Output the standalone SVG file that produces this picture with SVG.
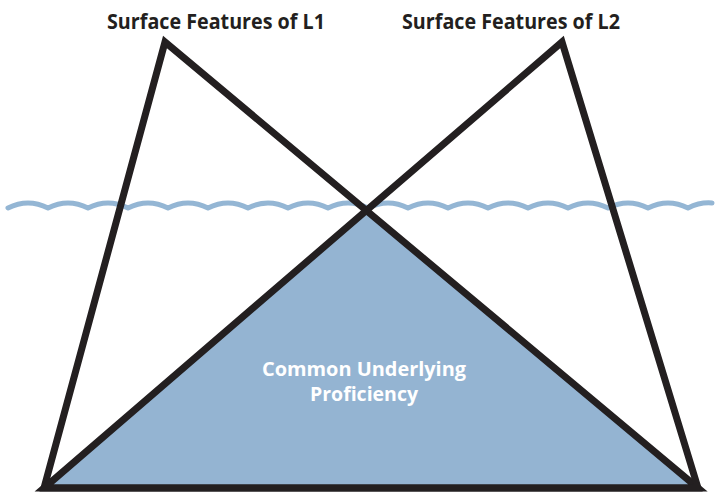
<svg xmlns="http://www.w3.org/2000/svg" width="716" height="493" viewBox="0 0 716 493">
<style>
.edge{fill:none;stroke:#231f20;stroke-width:7;stroke-linejoin:miter;stroke-linecap:butt}
.title{font-family:"Open Sans","Liberation Sans",sans-serif;font-weight:bold;font-size:21px;fill:#231f20;text-anchor:middle}
.inner{font-family:"Open Sans","Liberation Sans",sans-serif;font-weight:bold;font-size:19px;fill:#ffffff;text-anchor:middle}
.wave{fill:none;stroke:#94b6d4;stroke-width:5;stroke-linecap:round;stroke-linejoin:round}
</style>
<g id="cup">
<polygon points="366,208 44,488 698,488" fill="#94b4d2"/>
<text class="inner" x="364" y="376" textLength="204" lengthAdjust="spacingAndGlyphs">Common Underlying</text>
<text class="inner" x="364" y="401" textLength="108" lengthAdjust="spacingAndGlyphs">Proficiency</text>
</g>
<g id="waterline">
<path class="wave" d="M8,208 Q28,198 48,208 Q68,198 88,208 Q108,198 128,208 Q148,198 168,208 Q188,198 208,208 Q228,198 248,208 Q268,198 288,208 Q308,198 328,208 Q348,198 368,208 Q388,198 408,208 Q428,198 448,208 Q468,198 488,208 Q508,198 528,208 Q548,198 568,208 Q588,198 608,208 Q628,198 648,208 Q668,198 688,208 Q700,202 712,203"/>
</g>
<g id="connectors">
<polygon class="edge" points="165,42 44,488 698,488"/>
<polygon class="edge" points="562,42 44,488 698,488"/>
</g>
<g id="L1">
<text class="title" x="216" y="29" textLength="218" lengthAdjust="spacingAndGlyphs">Surface Features of L1</text>
</g>
<g id="L2">
<text class="title" x="511" y="29" textLength="218" lengthAdjust="spacingAndGlyphs">Surface Features of L2</text>
</g>
</svg>
